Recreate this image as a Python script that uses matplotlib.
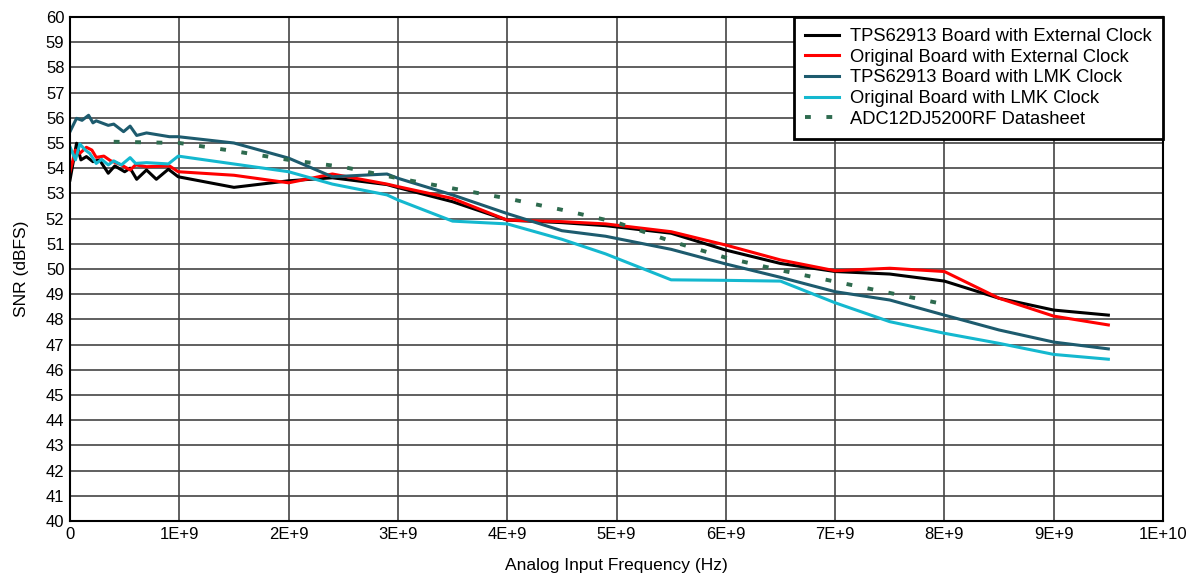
# SNR vs analog input frequency, five curves

import matplotlib.pyplot as plt
import numpy as np

plt.rcParams['font.family'] = ['Liberation Sans', 'DejaVu Sans']

# frequencies in units of 1E+9 Hz
f_tps_ext = [0.0, 0.06, 0.10, 0.15, 0.21, 0.27, 0.35, 0.41, 0.50, 0.55, 0.61, 0.70, 0.79, 0.90, 0.99,
             1.5, 2.0, 2.4, 2.9, 3.0, 3.5, 4.0, 4.5, 4.9, 5.5, 6.0, 6.5, 7.0, 7.5, 8.0, 8.5, 9.0, 9.5]
snr_tps_ext = [53.53, 54.99, 54.33, 54.46, 54.26, 54.33, 53.80, 54.09, 53.86, 54.00, 53.56, 53.93, 53.56, 53.96, 53.66,
               53.24, 53.50, 53.62, 53.35, 53.23, 52.67, 51.94, 51.84, 51.72, 51.42, 50.75, 50.22, 49.90, 49.80, 49.52, 48.84, 48.37, 48.17]

f_orig_ext = [0.0, 0.05, 0.09, 0.15, 0.20, 0.24, 0.31, 0.37, 0.47, 0.55, 0.60, 0.70, 0.91, 0.99,
              1.5, 2.0, 2.4, 2.9, 3.0, 3.5, 4.0, 4.5, 4.9, 5.5, 6.0, 6.5, 7.0, 7.5, 8.0, 8.5, 9.0, 9.5]
snr_orig_ext = [53.86, 54.72, 54.59, 54.83, 54.72, 54.43, 54.48, 54.30, 54.13, 53.93, 54.13, 54.06, 54.09, 53.86,
                53.72, 53.42, 53.77, 53.37, 53.27, 52.80, 51.94, 51.88, 51.79, 51.48, 50.95, 50.36, 49.93, 50.03, 49.90, 48.84, 48.13, 47.78]

f_tps_lmk = [0.0, 0.06, 0.11, 0.17, 0.21, 0.24, 0.35, 0.40, 0.49, 0.55, 0.61, 0.70, 0.91, 0.99,
             1.5, 2.0, 2.4, 2.9, 3.0, 3.5, 4.0, 4.5, 4.9, 5.5, 6.0, 6.5, 7.0, 7.5, 8.0, 8.5, 9.0, 9.5]
snr_tps_lmk = [55.45, 55.98, 55.90, 56.10, 55.80, 55.88, 55.70, 55.75, 55.45, 55.67, 55.30, 55.40, 55.25, 55.25,
               55.00, 54.40, 53.66, 53.77, 53.60, 52.94, 52.20, 51.52, 51.30, 50.78, 50.20, 49.67, 49.10, 48.77, 48.17, 47.58, 47.10, 46.83]

f_orig_lmk = [0.0, 0.05, 0.09, 0.14, 0.18, 0.24, 0.29, 0.35, 0.40, 0.47, 0.55, 0.60, 0.70, 0.90, 0.99,
              2.0, 2.4, 2.9, 3.0, 3.5, 4.0, 4.5, 4.9, 5.5, 6.0, 6.5, 7.0, 7.5, 8.0, 8.5, 9.0, 9.5]
snr_orig_lmk = [54.85, 54.33, 54.96, 54.72, 54.59, 54.19, 54.35, 54.13, 54.29, 54.13, 54.42, 54.19, 54.22, 54.17, 54.48,
                53.86, 53.37, 52.94, 52.74, 51.90, 51.79, 51.18, 50.60, 49.57, 49.55, 49.52, 48.66, 47.91, 47.45, 47.05, 46.61, 46.42]

f_sheet = [0.4, 1.0, 1.5, 2.0, 2.5, 3.0, 3.5, 4.0, 4.5, 5.0, 5.5, 6.0, 6.5, 7.0, 7.5, 8.0]
snr_sheet = [55.05, 55.0, 54.68, 54.33, 54.05, 53.6, 53.2, 52.8, 52.35, 51.85, 51.1, 50.45, 49.95, 49.5, 49.05, 48.6]

xticks = np.arange(0, 11)
xlabels = ['0'] + ['%dE+9' % i for i in range(1, 10)] + ['1E+10']

fig = plt.figure(figsize=(11.98, 5.75), dpi=100)
ax = fig.add_axes([70 / 1198, 54 / 575, 1093 / 1198, 504 / 575])

ax.plot(f_tps_ext, snr_tps_ext, color='black', lw=2.2, label='TPS62913 Board with External Clock')
ax.plot(f_orig_ext, snr_orig_ext, color='#ff0000', lw=2.2, label='Original Board with External Clock')
ax.plot(f_tps_lmk, snr_tps_lmk, color='#1d5b6e', lw=2.2, label='TPS62913 Board with LMK Clock')
ax.plot(f_orig_lmk, snr_orig_lmk, color='#14b8cf', lw=2.2, label='Original Board with LMK Clock')
ax.plot(f_sheet, snr_sheet, color='#2e6b4f', lw=2.8, ls=(0, (1.5, 4)), label='ADC12DJ5200RF Datasheet')

ax.set_xlim(0, 10)
ax.set_ylim(40, 60)
ax.set_xticks(xticks)
ax.set_xticklabels(xlabels)
ax.set_yticks(np.arange(40, 61))
ax.tick_params(length=0, labelsize=12, pad=4)
ax.grid(True, color='#444444', lw=1.2)
ax.set_axisbelow(True)
for s in ax.spines.values():
    s.set_color('black')
    s.set_linewidth(1.5)

ax.set_xlabel('Analog Input Frequency (Hz)', fontsize=12.5, labelpad=12)
ax.set_ylabel('SNR (dBFS)', fontsize=12.5, labelpad=12)

leg = ax.legend(loc='upper right', fontsize=13.2, frameon=True, fancybox=False,
                borderaxespad=0, handlelength=1.85, handletextpad=0.6,
                labelspacing=0.2, borderpad=0.6)
leg.get_frame().set_edgecolor('black')
leg.get_frame().set_linewidth(2)
leg.get_frame().set_alpha(1)

plt.savefig('out.png', dpi=100)
